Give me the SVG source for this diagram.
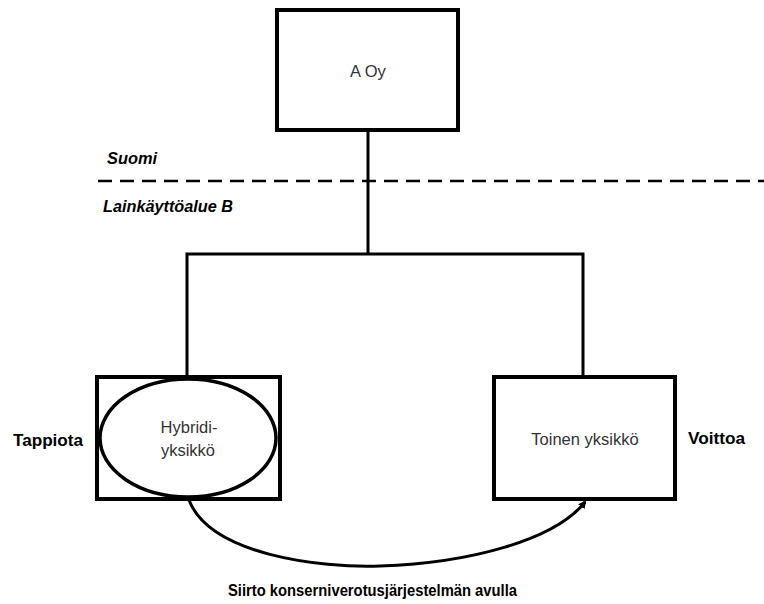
<svg xmlns="http://www.w3.org/2000/svg" width="764" height="604" viewBox="0 0 764 604">
<style>
.box{fill:#fff;stroke:#000;stroke-width:4}
.ln{fill:none;stroke:#000;stroke-width:3}
.t{font-family:"Liberation Sans",Arial,sans-serif;font-size:16.5px;fill:#333;text-anchor:middle}
.lb{font-family:"Liberation Sans",Arial,sans-serif;font-size:16px;font-weight:bold;fill:#000}
</style>
<defs>
<marker id="ah" markerWidth="8" markerHeight="8" refX="6" refY="4" orient="auto" markerUnits="userSpaceOnUse">
<path d="M0,0 L8,4 L0,8 z" fill="#000"/>
</marker>
</defs>
<g id="connectors">
<line class="ln" x1="368" y1="130" x2="368" y2="254"/>
<polyline class="ln" points="187,376 187,254 583,254 583,376"/>
<line x1="98" y1="181" x2="764" y2="181" stroke="#000" stroke-width="2.5" stroke-dasharray="14,8"/>
<path class="ln" d="M189,500 C210,555 320,568 380,566 C470,563 555,540 585,502" marker-end="url(#ah)"/>
</g>
<g id="aoy">
<rect class="box" x="277" y="10" width="181" height="120"/>
<text class="t" x="368" y="77">A Oy</text>
</g>
<g id="hybridi">
<rect class="box" x="97" y="377" width="183" height="122"/>
<ellipse cx="188" cy="438" rx="88" ry="59" fill="#fff" stroke="#000" stroke-width="3.5"/>
<text class="t" x="189" y="433">Hybridi-</text>
<text class="t" x="188" y="456">yksikkö</text>
</g>
<g id="toinen">
<rect class="box" x="494" y="377" width="181" height="122"/>
<text class="t" x="585" y="445">Toinen yksikkö</text>
</g>
<g id="labels">
<text class="lb" x="107" y="164" font-style="italic" textLength="50" lengthAdjust="spacingAndGlyphs">Suomi</text>
<text class="lb" x="103" y="212" font-style="italic" textLength="130" lengthAdjust="spacingAndGlyphs">Lainkäyttöalue B</text>
<text class="lb" x="13" y="446" textLength="70" lengthAdjust="spacingAndGlyphs">Tappiota</text>
<text class="lb" x="688" y="444" textLength="57" lengthAdjust="spacingAndGlyphs">Voittoa</text>
<text class="lb" x="228" y="596" textLength="289" lengthAdjust="spacingAndGlyphs">Siirto konserniverotusjärjestelmän avulla</text>
</g>
</svg>
